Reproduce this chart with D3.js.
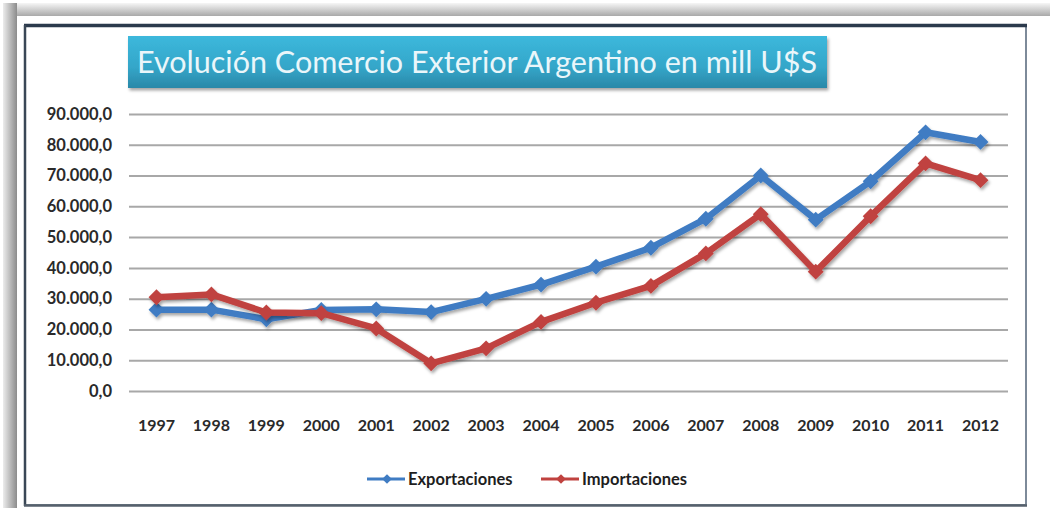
<!DOCTYPE html>
<html>
<head>
<meta charset="utf-8">
<script src="https://cdnjs.cloudflare.com/ajax/libs/d3/7.8.5/d3.min.js"></script>
<style>
  body { margin: 0; background: #fff; }
  svg { display: block; }
</style>
</head>
<body>
<div class="chart"></div>
<script>
// data (millones de U$S)
var years = ["1997","1998","1999","2000","2001","2002","2003","2004","2005","2006","2007","2008","2009","2010","2011","2012"];
var exportaciones = [26431, 26434, 23309, 26341, 26543, 25651, 29939, 34576, 40387, 46546, 55980, 70019, 55672, 68134, 84051, 80927];
var importaciones = [30450, 31377, 25508, 25280, 20320, 8990, 13851, 22445, 28687, 34154, 44707, 57462, 38786, 56793, 73937, 68508];
var yTicks = [0, 10000, 20000, 30000, 40000, 50000, 60000, 70000, 80000, 90000];
var titleText = "Evolución Comercio Exterior Argentino en mill U$S";

var svgWidth = 1050;
var svgHeight = 508;

var plot = { left: 129, right: 1008, top: 114, bottom: 391 };

var svg = d3.select(".chart")
  .append("svg")
  .attr("width", svgWidth)
  .attr("height", svgHeight);

var defs = svg.append("defs");

var topGrad = defs.append("linearGradient").attr("id", "topGrad")
  .attr("x1", 0).attr("y1", 0).attr("x2", 0).attr("y2", 1);
topGrad.append("stop").attr("offset", "0%").attr("stop-color", "#f6f6f6");
topGrad.append("stop").attr("offset", "100%").attr("stop-color", "#a9a9a9");

var leftGrad = defs.append("linearGradient").attr("id", "leftGrad")
  .attr("x1", 0).attr("y1", 0).attr("x2", 1).attr("y2", 0);
leftGrad.append("stop").attr("offset", "0%").attr("stop-color", "#ececec");
leftGrad.append("stop").attr("offset", "100%").attr("stop-color", "#8c8c8c");

var titleGrad = defs.append("linearGradient").attr("id", "titleGrad")
  .attr("x1", 0).attr("y1", 0).attr("x2", 0).attr("y2", 1);
titleGrad.append("stop").attr("offset", "0%").attr("stop-color", "#3cb8dc");
titleGrad.append("stop").attr("offset", "60%").attr("stop-color", "#34a6c9");
titleGrad.append("stop").attr("offset", "100%").attr("stop-color", "#2a88a8");

var shadow = defs.append("filter").attr("id", "shadow")
  .attr("x", "-10%").attr("y", "-10%").attr("width", "130%").attr("height", "140%");
shadow.append("feDropShadow").attr("dx", 1.5).attr("dy", 2.5)
  .attr("stdDeviation", 1.6).attr("flood-color", "#000").attr("flood-opacity", 0.35);

// slide frame with shadow
svg.append("rect").attr("x", 3).attr("y", 3).attr("width", svgWidth - 3).attr("height", 13)
  .attr("fill", "url(#topGrad)");
svg.append("rect").attr("x", 3).attr("y", 3).attr("width", 14).attr("height", svgHeight - 3)
  .attr("fill", "url(#leftGrad)");
svg.append("rect").attr("x", 17).attr("y", 16).attr("width", svgWidth - 17).attr("height", svgHeight - 16)
  .attr("fill", "#fff");

// chart box
svg.append("rect").attr("x", 25).attr("y", 26).attr("width", 1001).attr("height", 479)
  .attr("fill", "#fff").attr("stroke", "#7d8a99").attr("stroke-width", 2);
svg.append("line").attr("x1", 24).attr("x2", 1027).attr("y1", 25.5).attr("y2", 25.5)
  .attr("stroke", "#2b3a4c").attr("stroke-width", 3.5);
svg.append("line").attr("x1", 25).attr("x2", 25).attr("y1", 25).attr("y2", 506)
  .attr("stroke", "#3a4756").attr("stroke-width", 2.5);
svg.append("line").attr("x1", 24).attr("x2", 1027).attr("y1", 505.5).attr("y2", 505.5)
  .attr("stroke", "#56606c").attr("stroke-width", 2.5);

// scales
var xScale = d3.scaleBand()
  .domain(years)
  .range([plot.left, plot.right]);

var yScale = d3.scaleLinear()
  .domain([0, 90000])
  .range([plot.bottom, plot.top]);

var esLocale = d3.formatLocale({ decimal: ",", thousands: ".", grouping: [3], currency: ["", "$"] });
var fmt = esLocale.format(",.1f");

// gridlines
svg.append("g")
  .attr("class", "grid")
  .attr("transform", `translate(${plot.left},0)`)
  .call(d3.axisLeft(yScale).tickValues(yTicks).tickSize(-(plot.right - plot.left)).tickFormat(""))
  .call(g => g.select(".domain").remove())
  .call(g => g.selectAll("line").attr("stroke", "#a8a8a8").attr("stroke-width", 2));

// y axis labels
svg.append("g")
  .attr("transform", `translate(${plot.left},0)`)
  .call(d3.axisLeft(yScale).tickValues(yTicks).tickSize(0).tickPadding(17).tickFormat(fmt))
  .call(g => g.select(".domain").remove())
  .call(g => g.selectAll("text")
    .attr("font-family", "Lato, 'Liberation Sans', sans-serif")
    .attr("font-weight", "bold")
    .attr("font-size", 16.5)
    .attr("fill", "#2a2a2a"));

// x axis labels
svg.append("g")
  .attr("transform", `translate(0,${plot.bottom})`)
  .call(d3.axisBottom(xScale).tickSize(0).tickPadding(29))
  .call(g => g.select(".domain").remove())
  .call(g => g.selectAll("text")
    .attr("font-family", "Lato, 'Liberation Sans', sans-serif")
    .attr("font-weight", "bold")
    .attr("font-size", 16)
    .attr("fill", "#2a2a2a"));

// series
var series = [
  { name: "Exportaciones", values: exportaciones, color: "#3f7cc3" },
  { name: "Importaciones", values: importaciones, color: "#c0423f" }
];

var line = d3.line()
  .x((d, i) => xScale(years[i]) + xScale.bandwidth() / 2)
  .y(d => yScale(d));

var diamond = d3.symbol().type(d3.symbolDiamond2).size(160);

series.forEach(function(s) {
  var g = svg.append("g").attr("filter", "url(#shadow)");
  g.append("path")
    .datum(s.values)
    .attr("fill", "none")
    .attr("stroke", s.color)
    .attr("stroke-width", 6.5)
    .attr("stroke-linejoin", "round")
    .attr("d", line);
  g.selectAll("path.marker")
    .data(s.values)
    .enter()
    .append("path")
    .attr("class", "marker")
    .attr("transform", (d, i) => `translate(${xScale(years[i]) + xScale.bandwidth() / 2},${yScale(d)})`)
    .attr("d", diamond)
    .attr("fill", s.color);
});

// legend
var legendX = [367, 541];
var legend = svg.append("g").attr("transform", "translate(0,479)");
series.forEach(function(s, i) {
  var lg = legend.append("g").attr("transform", `translate(${legendX[i]},0)`);
  lg.append("line").attr("x1", 0).attr("x2", 38).attr("y1", 0).attr("y2", 0)
    .attr("stroke", s.color).attr("stroke-width", 3);
  lg.append("path").attr("transform", "translate(20,0)")
    .attr("d", d3.symbol().type(d3.symbolDiamond2).size(60))
    .attr("fill", s.color);
  lg.append("text")
    .attr("x", 41)
    .attr("dy", "0.35em")
    .attr("font-family", "Lato, 'Liberation Sans', sans-serif")
    .attr("font-weight", "bold")
    .attr("font-size", 16.5)
    .attr("fill", "#1e1e1e")
    .text(s.name);
});

// title box
var tg = svg.append("g");
tg.append("rect")
  .attr("x", 128).attr("y", 36).attr("width", 699).attr("height", 52)
  .attr("fill", "url(#titleGrad)")
  .attr("filter", "url(#shadow)");
tg.append("text")
  .attr("x", 137).attr("y", 73)
  .attr("font-family", "Lato, 'Liberation Sans', sans-serif")
  .attr("font-size", 31)
  .attr("fill", "#eaf6fa")
  .attr("textLength", 680)
  .attr("lengthAdjust", "spacingAndGlyphs")
  .text(titleText);
</script>
</body>
</html>
